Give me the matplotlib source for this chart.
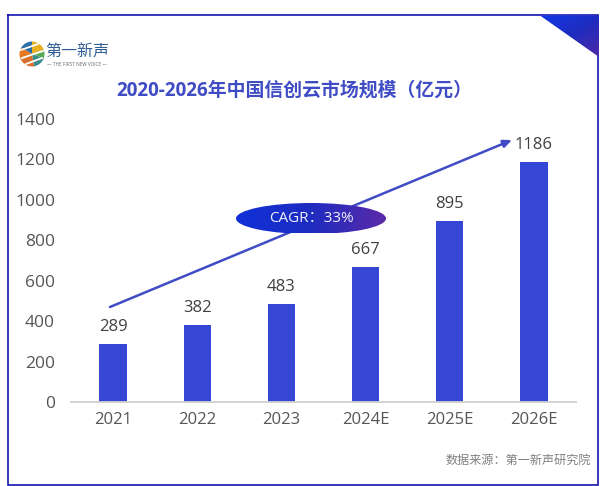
import matplotlib
matplotlib.use('Agg')
import matplotlib.pyplot as plt
import numpy as np
from matplotlib.patches import Ellipse, Polygon, Wedge, Rectangle
from matplotlib.colors import LinearSegmentedColormap

plt.rcParams['font.family'] = ['Open Sans', 'Noto Sans CJK SC', 'DejaVu Sans']

categories = ['2021', '2022', '2023', '2024E', '2025E', '2026E']
values = [289, 382, 483, 667, 895, 1186]
yticks = [0, 200, 400, 600, 800, 1000, 1200, 1400]
title = '2020-2026年中国信创云市场规模（亿元）'
source = '数据来源：第一新声研究院'
cagr = 'CAGR：33%'

W, H = 600, 486
fig = plt.figure(figsize=(W/100, H/100), dpi=100, facecolor='white')

# chart
ax = fig.add_axes([71/W, 1-402/H, 505/W, 283/H])
ax.bar(range(len(values)), values, width=0.325, color='#3647D6', zorder=2)
ax.set_xlim(-0.5, 5.5)
ax.set_ylim(0, 1400)
ax.set_xticks(range(len(categories)), categories)
ax.set_yticks(yticks)
ax.tick_params(axis='both', length=0, labelsize=12, labelcolor='#555555')
ax.tick_params(axis='x', pad=7)
ax.tick_params(axis='y', pad=11.5, labelsize=12.5)
for s in ['top', 'right', 'left']:
    ax.spines[s].set_visible(False)
ax.spines['bottom'].set_color('#D0D0D0')
ax.spines['bottom'].set_linewidth(1.3)
for i, v in enumerate(values):
    ax.annotate(str(v), (i, v), xytext=(0, 6.5), textcoords='offset points',
                ha='center', va='bottom', fontsize=12, color='#404040')
ax.patch.set_alpha(0)

# overlay in pixel coordinates
ov = fig.add_axes([0, 0, 1, 1], zorder=5)
ov.set_xlim(0, W)
ov.set_ylim(H, 0)
ov.axis('off')
ov.patch.set_alpha(0)

# frame
ov.plot([7.5, 598, 598, 7.5, 7.5], [15, 15, 484.5, 484.5, 15],
        color='#1414B0', lw=1.2, solid_joinstyle='miter')

# corner triangle with gradient
corner_cmap = LinearSegmentedColormap.from_list('c', ['#1238E8', '#1E2CC0', '#4A2AA8'])
g = np.linspace(0, 1, 64)[None, :] * np.ones((64, 64))
g = (g + np.linspace(0, 1, 64)[:, None]) / 2
im = ov.imshow(g, extent=[540, 600, 56, 15], cmap=corner_cmap, aspect='auto', zorder=3)
tri = Polygon([[540, 15.5], [599, 57], [599, 15.5]], transform=ov.transData, fc='none', ec='none')
ov.add_patch(tri)
im.set_clip_path(tri)

# growth arrow
ov.annotate('', xy=(512, 140), xytext=(110, 307),
            arrowprops=dict(arrowstyle='-|>,head_width=0.22,head_length=0.5',
                            color='#3F4CC4', lw=1.8, shrinkA=0, shrinkB=0), zorder=4)

# CAGR ellipse with gradient
ell_cmap = LinearSegmentedColormap.from_list('e', ['#1030D8', '#1E2CC0', '#5A2AA8'])
g2 = np.linspace(0, 1, 128)[None, :] * np.ones((32, 128))
im2 = ov.imshow(g2, extent=[236, 386, 233, 203], cmap=ell_cmap, aspect='auto', zorder=5)
ell = Ellipse((311, 218.5), 150, 31, transform=ov.transData, fc='none', ec='none')
ov.add_patch(ell)
im2.set_clip_path(ell)
ov.text(311, 218.5, cagr, ha='center', va='center', color='#F0F0FA', fontsize=11, zorder=6)
ov.set_xlim(0, W)
ov.set_ylim(H, 0)

# title and source
ov.text(294, 91, title, ha='center', va='center', fontsize=13.6, fontweight='bold', color='#3F4CC4')
ov.text(591, 460, source, ha='right', va='center', fontsize=8.7, color='#808080')

# logo
cx, cy, r = 32, 54, 12.5
for (a, b, c) in [(20, 90, '#E8B020'), (90, 150, '#2F6FA8'), (150, 210, '#E87820'),
                  (210, 280, '#D8702A'), (280, 340, '#3A8A8A'), (340, 380, '#58A858')]:
    # the y-axis is inverted, so angles are mirrored
    ov.add_patch(Wedge((cx, cy), r, -b, -a, fc=c, ec='none', zorder=3))
for (x0, y0, x1, y1) in [(21, 50, 38, 44), (22, 58, 43, 51), (26, 64, 42, 58)]:
    ov.plot([x0, x1], [y0, y1], color='white', lw=1.3, zorder=4)
ov.text(77, 52, '第一新声', ha='center', va='center', fontsize=11.5, color='#2F5F95')
ov.text(77, 64, '— THE FIRST NEW VOICE —', ha='center', va='center', fontsize=3.3, color='#666666')

fig.savefig('out.png', dpi=100, facecolor='white')
